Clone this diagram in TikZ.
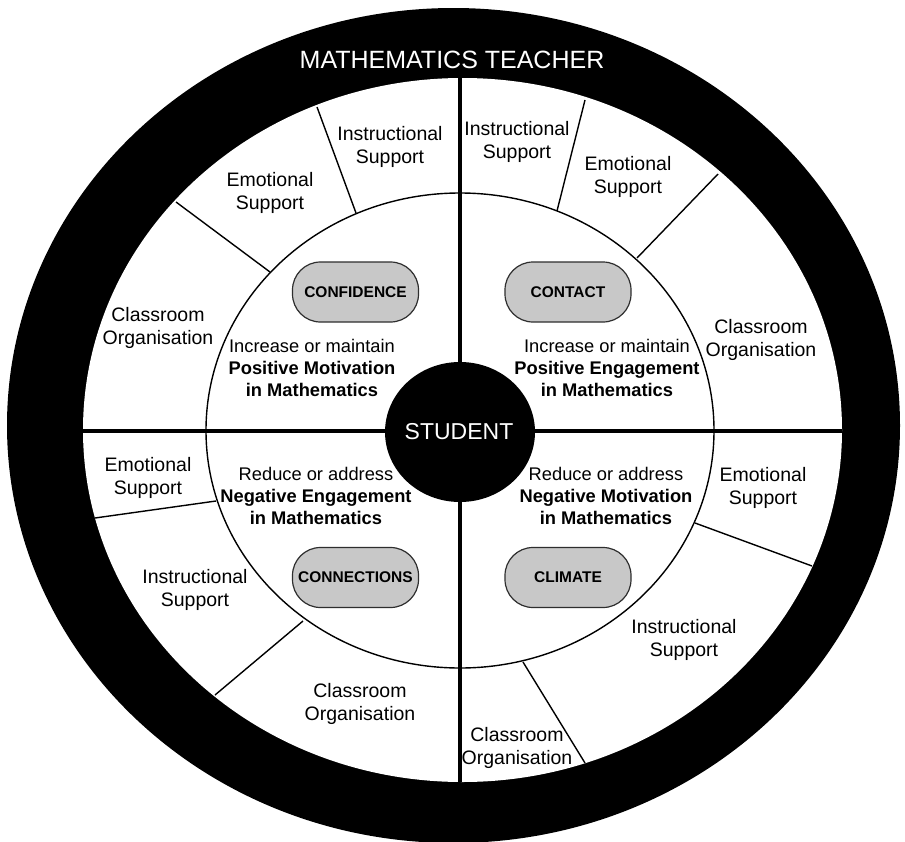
\documentclass[tikz,border=0pt]{standalone}
\usepackage{fontspec}
\setmainfont{Liberation Sans}
\definecolor{pillgray}{HTML}{C8C8C8}
\definecolor{pillline}{HTML}{2E2E2E}
\begin{document}
\begin{tikzpicture}[x=1pt,y=-1pt,
  divider/.style={line width=1.4pt,black},
  crossline/.style={line width=3.4pt,black},
  supportlabel/.style={inner sep=0pt,align=center,font=\fontsize{19.5}{23.3}\selectfont},
  aimtext/.style={inner sep=0pt,align=center,font=\fontsize{18.3}{22.3}\selectfont},
  pill/.style={draw=pillline,fill=pillgray,line width=1.2pt,rounded corners=28pt,
    minimum width=126pt,minimum height=60pt,inner sep=0pt,
    font=\fontsize{15.5}{18}\selectfont\bfseries},
  banner/.style={inner sep=0pt,text=white}]
\useasboundingbox (0,0) rectangle (905,841);
\clip (0,0) rectangle (905,841);

% teacher ring and the white field inside it
\fill[black] (453.5,425.5) ellipse [x radius=446.5, y radius=417.5];
\fill[white] (462.5,430) ellipse [x radius=379.5, y radius=352];

% dividers between the support domains
\coordinate (tl1a) at (317,107); \coordinate (tl1b) at (356,213);
\coordinate (tl2a) at (176,202); \coordinate (tl2b) at (270,272);
\coordinate (tr1a) at (585,100); \coordinate (tr1b) at (557,211);
\coordinate (tr2a) at (718,174); \coordinate (tr2b) at (637,258);
\coordinate (bl1a) at (95,518);  \coordinate (bl1b) at (216,501);
\coordinate (bl2a) at (215,695); \coordinate (bl2b) at (303,621);
\coordinate (br1a) at (812,566); \coordinate (br1b) at (695,523);
\coordinate (br2a) at (585,763); \coordinate (br2b) at (523,662);
\foreach \p in {tl1,tl2,tr1,tr2,bl1,bl2,br1,br2}
  \draw[divider] (\p a) -- (\p b);

% ring of the four aims
\draw[divider] (460,430.5) ellipse [x radius=254, y radius=237.5];

% quadrant cross
\coordinate (west) at (83,431);  \coordinate (east) at (842,431);
\coordinate (north) at (460,78); \coordinate (south) at (460,782);
\draw[crossline] (west) -- (east);
\draw[crossline] (north) -- (south);

% student at the centre
\fill[black] (460,432) ellipse [x radius=75, y radius=70];
\node[banner,font=\fontsize{23}{26}\selectfont] (student) at (459,432) {STUDENT};
\node[banner,font=\fontsize{25}{28}\selectfont] (teacher) at (452,60) {MATHEMATICS TEACHER};

% support domains
\node[supportlabel] (tlInstr) at (390,147) {Instructional\\Support};
\node[supportlabel] (tlEmo)   at (270,193) {Emotional\\Support};
\node[supportlabel] (tlOrg)   at (158,328) {Classroom\\Organisation};
\node[supportlabel] (trInstr) at (517,142) {Instructional\\Support};
\node[supportlabel] (trEmo)   at (628,177) {Emotional\\Support};
\node[supportlabel] (trOrg)   at (761,340) {Classroom\\Organisation};
\node[supportlabel] (blEmo)   at (148,478) {Emotional\\Support};
\node[supportlabel] (blInstr) at (195,590) {Instructional\\Support};
\node[supportlabel] (blOrg)   at (360,704) {Classroom\\Organisation};
\node[supportlabel] (brEmo)   at (763,488) {Emotional\\Support};
\node[supportlabel] (brInstr) at (684,640) {Instructional\\Support};
\node[supportlabel] (brOrg)   at (517,748) {Classroom\\Organisation};

% aims
\node[aimtext] (aimTL) at (312,368) {Increase or maintain\\\textbf{Positive Motivation}\\\textbf{in Mathematics}};
\node[aimtext] (aimTR) at (607,368) {Increase or maintain\\\textbf{Positive Engagement}\\\textbf{in Mathematics}};
\node[aimtext] (aimBL) at (316,496) {Reduce or address\\\textbf{Negative Engagement}\\\textbf{in Mathematics}};
\node[aimtext] (aimBR) at (606,496) {Reduce or address\\\textbf{Negative Motivation}\\\textbf{in Mathematics}};

% the four Cs
\node[pill] (confidence)  at (355.5,292)   {CONFIDENCE};
\node[pill] (contact)     at (568,292)     {CONTACT};
\node[pill] (connections) at (355.5,577.5) {CONNECTIONS};
\node[pill] (climate)     at (568,577.5)   {CLIMATE};
\end{tikzpicture}
\end{document}
